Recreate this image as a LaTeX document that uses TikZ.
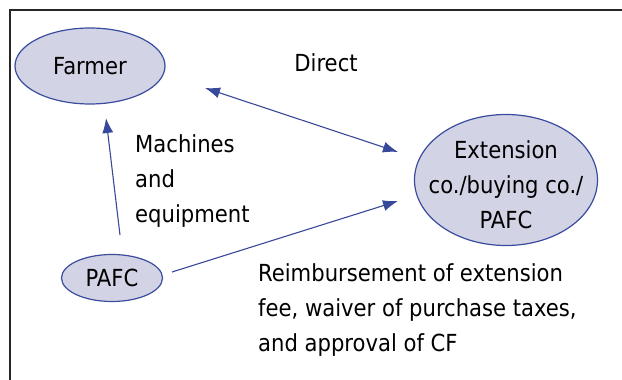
\documentclass[tikz,border=0pt]{standalone}
\usepackage{fontspec}
\setmainfont{DejaVu Sans Condensed}
\usetikzlibrary{arrows.meta,shapes.geometric}
\definecolor{bubblefill}{RGB}{211,211,230}
\definecolor{bubbleline}{RGB}{58,76,158}
\definecolor{arrowblue}{RGB}{56,72,154}
\tikzset{
  bubble/.style={ellipse, draw=bubbleline, fill=bubblefill, line width=1.2pt,
    inner sep=0pt},
  bubble text/.style={font=\fontsize{23.5}{35}\selectfont, align=center, inner sep=0pt},
  label text/.style={font=\fontsize{23.5}{35}\selectfont, align=left, anchor=west, inner sep=0pt},
  tip/.style={Latex[length=15pt,width=11pt]},
  flow/.style={draw=arrowblue, line width=1.1pt, -{Latex[length=15pt,width=11pt]}},
  both flow/.style={draw=arrowblue, line width=1.1pt,
    {Latex[length=15pt,width=11pt]}-{Latex[length=15pt,width=11pt]}}
}
\begin{document}
\begin{tikzpicture}[x=1pt,y=-1pt]
\useasboundingbox (0,0) rectangle (622,380);
% frame
\draw[line width=1.3pt, black!85] (622,10) -- (10,10) -- (10,380);
% actors
\node[bubble, minimum width=150, minimum height=76] (farmer) at (90,66) {};
\node[bubble text] (farmerT) at (farmer.center) {Farmer};
\node[bubble, minimum width=183, minimum height=131] (ext) at (506,180) {};
\node[bubble text] (extT) at (506,185) {Extension\\co./buying co./\\PAFC};
\node[bubble, minimum width=101, minimum height=47] (pafc) at (112,278) {};
\node[bubble text] (pafcT) at (pafc.center) {PAFC};
% labels
\node[bubble text] (direct) at (326,63) {Direct};
\node[label text] (mach) at (135,181) {Machines\\and\\equipment};
\node[label text] (reimb) at (258,310) {Reimbursement of extension\\fee, waiver of purchase taxes,\\and approval of CF};
% connectors
\coordinate (fA) at (205,88);
\coordinate (eA) at (398,152);
\coordinate (pA) at (120,235);
\coordinate (fB) at (106,118);
\coordinate (pB) at (172,272);
\coordinate (eB) at (398,201);
\draw[both flow] (fA) -- (eA);
\draw[flow] (pA) -- (fB);
\draw[flow] (pB) -- (eB);
\end{tikzpicture}
\end{document}
